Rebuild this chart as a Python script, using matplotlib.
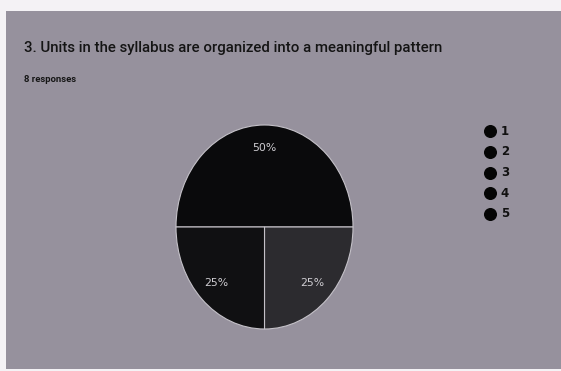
import matplotlib.pyplot as plt
from matplotlib.patches import Rectangle

# survey answers on a 1-5 scale
categories = ["1", "2", "3", "4", "5"]
counts = [0, 0, 4, 2, 2]
slice_colors = ["#0b0b0d", "#151517", "#0a0a0c", "#2c2b2f", "#101012"]

title = "3. Units in the syllabus are organized into a meaningful pattern"
subtitle = f"{sum(counts)} responses"

W, H = 561, 371
fig = plt.figure(figsize=(W / 100, H / 100), dpi=100)
fig.patch.set_facecolor("#f4f2f5")

# grey card behind everything
fig.add_artist(Rectangle((6 / W, 2 / H), 1 - 6 / W, 1 - 13 / H,
                         transform=fig.transFigure, facecolor="#96919d",
                         edgecolor="none", zorder=0))

fig.text(24 / W, 1 - 48 / H, title, fontsize=10.8, family="Roboto",
         weight="medium", color="#141414", va="center", ha="left")
fig.text(24 / W, 1 - 80 / H, subtitle, fontsize=6.8, family="Roboto",
         weight="bold", color="#161616", va="center", ha="left")

# pie, drawn as an ellipse (slightly taller than wide)
px0, py0, px1, py1 = 176, 125, 353, 329
ax = fig.add_axes([px0 / W, 1 - py1 / H, (px1 - px0) / W, (py1 - py0) / H])
shown = [i for i, c in enumerate(counts) if c > 0]
wedges, texts, autotexts = ax.pie(
    [counts[i] for i in shown],
    colors=[slice_colors[i] for i in shown],
    startangle=180,
    counterclock=False,
    autopct=lambda p: f"{p:.0f}%",
    pctdistance=0.77,
    wedgeprops=dict(edgecolor="#c4c1c8", linewidth=0.8),
    textprops=dict(color="#cfcdd2", fontsize=7.8, family="DejaVu Sans"),
)
ax.set_aspect("auto")
ax.set_xlim(-1.0, 1.0)
ax.set_ylim(-1.0, 1.0)
ax.axis("off")

# legend on the right
lax = fig.add_axes([480 / W, 1 - 224 / H, 40 / W, 103 / H])
lax.set_xlim(0, 1)
lax.set_ylim(len(categories) - 0.5, -0.5)
lax.axis("off")
for i, name in enumerate(categories):
    lax.scatter(0.26, i, s=70, color="#050505", zorder=3)
    lax.text(0.52, i, name, fontsize=8.5, family="DejaVu Sans",
             weight="bold", color="#111111", va="center", ha="left")

fig.savefig("out.png", dpi=100, facecolor=fig.get_facecolor())
